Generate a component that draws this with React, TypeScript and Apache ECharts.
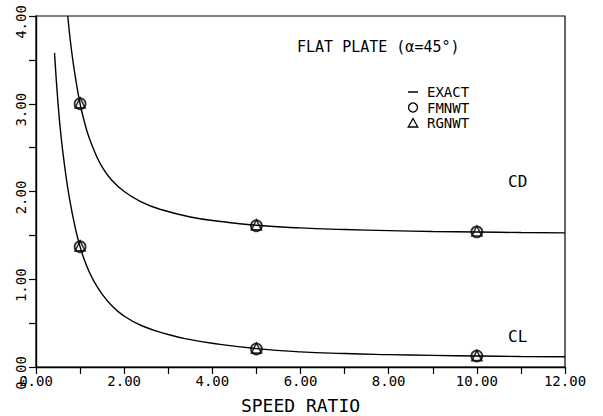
import React, { useEffect, useRef } from "react";
import * as echarts from "echarts";

// Exact curves: [speed ratio, coefficient]
const exactCD: [number, number][] = [
  [0.72, 4.0], [0.8, 3.63], [0.9, 3.28], [1.0, 3.0], [1.1, 2.79], [1.2, 2.62],
  [1.35, 2.43], [1.5, 2.28], [1.7, 2.14], [2.0, 2.0], [2.4, 1.88], [2.8, 1.8],
  [3.5, 1.71], [4.25, 1.655], [5.0, 1.615], [6.0, 1.585], [7.0, 1.567], [8.0, 1.554],
  [9.0, 1.544], [10.0, 1.538], [11.0, 1.532], [12.0, 1.528],
];
const exactCL: [number, number][] = [
  [0.42, 3.58], [0.5, 3.0], [0.57, 2.62], [0.66, 2.25], [0.76, 1.92], [0.88, 1.61],
  [1.0, 1.37], [1.15, 1.15], [1.3, 0.99], [1.5, 0.83], [1.7, 0.71], [2.0, 0.58],
  [2.4, 0.47], [3.0, 0.37], [3.5, 0.312], [4.0, 0.27], [5.0, 0.21], [6.0, 0.172],
  [7.0, 0.153], [8.0, 0.141], [9.0, 0.132], [10.0, 0.125], [11.0, 0.12], [12.0, 0.117],
];
// Numerical results
const fmnwtPoints: [number, number][] = [
  [1, 3.0], [5, 1.61], [10, 1.54],
  [1, 1.37], [5, 0.205], [10, 0.125],
];
const rgnwtPoints: [number, number][] = [
  [1, 3.01], [5, 1.62], [10, 1.55],
  [1, 1.38], [5, 0.215], [10, 0.13],
];
const xTicks = { min: 0, max: 12, interval: 2 };
const yTicks = { min: 0, max: 4, interval: 1 };

const FONT = "'DejaVu Sans Mono', monospace";

export default function App() {
  const ref = useRef<HTMLDivElement>(null);
  useEffect(() => {
    if (!ref.current) return;
    const chart = echarts.init(ref.current, undefined, { renderer: "svg" });
    const lineStyle = { color: "#000", width: 1.4 };
    const legendText = (text: string, y: number) => ({
      type: "text", x: 427, y,
      style: { text, font: `14px ${FONT}`, lineHeight: 14, fill: "#000", textVerticalAlign: "middle" },
    });
    chart.setOption({
      animation: false,
      backgroundColor: "#fff",
      grid: {
        left: 36, right: 38, top: 16, bottom: 49,
        outerBoundsMode: "none",
        containLabel: false,
        show: true, borderColor: "#000", borderWidth: 1.2,
      },
      xAxis: {
        type: "value",
        min: xTicks.min, max: xTicks.max, interval: xTicks.interval,
        name: "SPEED RATIO",
        nameLocation: "middle",
        nameGap: 29,
        nameTextStyle: { fontFamily: FONT, fontSize: 18, color: "#000" },
        axisLine: { show: true, lineStyle: { color: "#000", width: 1.4 } },
        axisTick: { show: true, inside: false, length: 7, lineStyle: { color: "#000", width: 1.2 } },
        minorTick: { show: true, splitNumber: 2, length: 7, lineStyle: { color: "#000", width: 1.2 } },
        splitLine: { show: false },
        axisLabel: {
          fontFamily: FONT, fontSize: 14, color: "#000", margin: 7,
          formatter: (v: number) => v.toFixed(2),
        },
      },
      yAxis: {
        type: "value",
        min: yTicks.min, max: yTicks.max, interval: yTicks.interval,
        axisLine: { show: true, lineStyle: { color: "#000", width: 1.4 } },
        axisTick: { show: true, inside: false, length: 7, lineStyle: { color: "#000", width: 1.2 } },
        minorTick: { show: true, splitNumber: 2, length: 7, lineStyle: { color: "#000", width: 1.2 } },
        splitLine: { show: false },
        axisLabel: {
          fontFamily: FONT, fontSize: 14, color: "#000", margin: 8, rotate: 90,
          padding: [0, 12, 0, 0],
          formatter: (v: number) => v.toFixed(2),
        },
      },
      series: [
        { name: "EXACT", type: "line", data: exactCD, showSymbol: false, smooth: 0.5, lineStyle, z: 2 },
        { name: "EXACT", type: "line", data: exactCL, showSymbol: false, smooth: 0.5, lineStyle, z: 2 },
        {
          name: "FMNWT", type: "scatter", data: fmnwtPoints, symbol: "circle", symbolSize: 11,
          itemStyle: { color: "rgba(0,0,0,0)", borderColor: "#000", borderWidth: 1.8 }, z: 3,
        },
        {
          name: "RGNWT", type: "scatter", data: rgnwtPoints, symbol: "triangle", symbolSize: 10,
          itemStyle: { color: "rgba(0,0,0,0)", borderColor: "#000", borderWidth: 1.6 }, z: 3,
        },
      ],
      graphic: [
        { type: "text", x: 297, y: 47, style: { text: "FLAT PLATE (α=45°)", font: `15px ${FONT}`, fill: "#000", textVerticalAlign: "middle" } },
        { type: "line", shape: { x1: 408, y1: 92, x2: 418, y2: 92 }, style: { stroke: "#000", lineWidth: 1.5 } },
        { type: "circle", shape: { cx: 413, cy: 107.5, r: 4.5 }, style: { fill: "none", stroke: "#000", lineWidth: 1.3 } },
        { type: "polygon", shape: { points: [[413, 118.5], [408.2, 127], [417.8, 127]] }, style: { fill: "none", stroke: "#000", lineWidth: 1.3 } },
        legendText("EXACT", 92),
        legendText("FMNWT", 107.5),
        legendText("RGNWT", 123),
        { type: "text", x: 508, y: 181, style: { text: "CD", font: `16px ${FONT}`, fill: "#000", textVerticalAlign: "middle" } },
        { type: "text", x: 508, y: 336, style: { text: "CL", font: `16px ${FONT}`, fill: "#000", textVerticalAlign: "middle" } },
      ],
    });
    return () => chart.dispose();
  }, []);
  return <div ref={ref} style={{ width: 603, height: 416, position: "absolute", left: 0, top: 0 }} />;
}
